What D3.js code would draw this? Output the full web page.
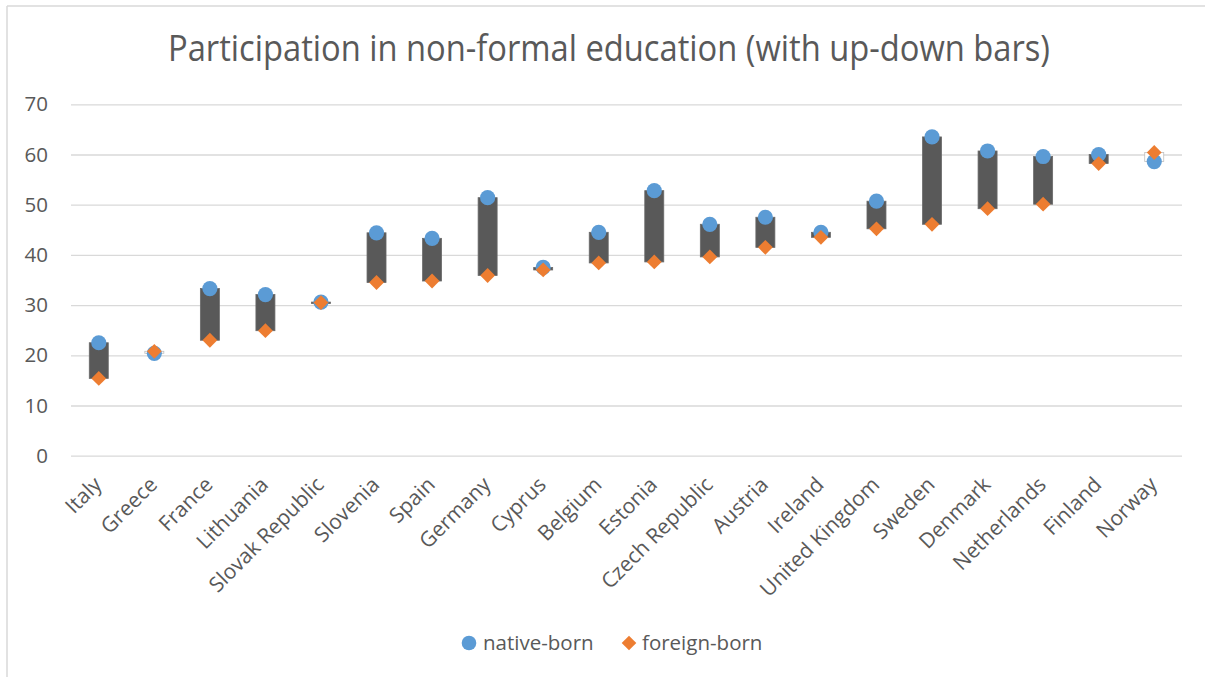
<!DOCTYPE html>
<html>
<head>
<meta charset="utf-8">
<script src="https://cdn.jsdelivr.net/npm/d3@7"></script>
<style>
  html, body { margin: 0; padding: 0; background: #fff; }
  svg { display: block; }
  text { font-family: "Open Sans", "Noto Sans", sans-serif; fill: #595959; }
</style>
</head>
<body>
<svg id="chart" width="1205" height="677"></svg>
<script>
// Participation in non-formal education, native-born vs foreign-born (%)
const countries = ["Italy", "Greece", "France", "Lithuania", "Slovak Republic", "Slovenia", "Spain",
  "Germany", "Cyprus", "Belgium", "Estonia", "Czech Republic", "Austria", "Ireland",
  "United Kingdom", "Sweden", "Denmark", "Netherlands", "Finland", "Norway"];
const nativeBorn  = [22.5, 20.4, 33.3, 32.1, 30.6, 44.4, 43.3, 51.4, 37.5, 44.5, 52.8, 46.1, 47.5, 44.5, 50.7, 63.5, 60.7, 59.6, 60.0, 58.6];
const foreignBorn = [15.4, 20.8, 23.0, 24.9, 30.5, 34.5, 34.8, 35.9, 37.0, 38.4, 38.6, 39.6, 41.5, 43.5, 45.2, 46.1, 49.2, 50.1, 58.2, 60.4];
const yTicks = [0, 10, 20, 30, 40, 50, 60, 70];
const seriesNames = ["native-born", "foreign-born"];

const colors = { native: "#5B9BD5", foreign: "#ED7D31", down: "#595959", up: "#FFFFFF", grid: "#D9D9D9" };

const data = countries.map((c, i) => ({ country: c, native: nativeBorn[i], foreign: foreignBorn[i] }));

const svg = d3.select("#chart");
const W = 1205, H = 677;
const plot = { left: 71, right: 1182, top: 104.3, bottom: 455.7 };
const labelSize = 20.5;

// diamond marker path with a given half-diagonal
const diamondPath = r => `M0,${-r}L${r},0L0,${r}L${-r},0Z`;

// chart frame (top and left edges visible)
svg.append("line").attr("x1", 7).attr("x2", W).attr("y1", 6).attr("y2", 6)
  .attr("stroke", colors.grid).attr("stroke-width", 1.5);
svg.append("line").attr("x1", 7).attr("x2", 7).attr("y1", 6).attr("y2", H)
  .attr("stroke", colors.grid).attr("stroke-width", 1.5);

// title
svg.append("text")
  .attr("x", 609).attr("y", 61)
  .attr("text-anchor", "middle")
  .attr("font-size", 37)
  .attr("textLength", 882)
  .attr("lengthAdjust", "spacingAndGlyphs")
  .text("Participation in non-formal education (with up-down bars)");

const x = d3.scaleBand().domain(countries).range([plot.left, plot.right]).padding(0);
const y = d3.scaleLinear().domain([0, 70]).range([plot.bottom, plot.top]);
const cx = d => x(d.country) + x.bandwidth() / 2;

// horizontal gridlines + y labels
const yAxis = d3.axisLeft(y).tickValues(yTicks).tickSize(-(plot.right - plot.left)).tickPadding(23);
const yg = svg.append("g").attr("transform", `translate(${plot.left},0)`).call(yAxis);
yg.select(".domain").remove();
yg.selectAll(".tick line").attr("stroke", colors.grid).attr("stroke-width", 1.3);
yg.selectAll(".tick text").attr("font-size", labelSize).attr("fill", "#595959")
  .style("font-family", "'Open Sans', sans-serif");

// x labels, rotated
const xAxis = d3.axisBottom(x).tickSize(0).tickPadding(0);
const xg = svg.append("g").attr("transform", `translate(0,${plot.bottom})`).call(xAxis);
xg.select(".domain").remove();
xg.selectAll(".tick text")
  .attr("font-size", 21).attr("fill", "#595959")
  .style("font-family", "'Open Sans', sans-serif")
  .attr("text-anchor", "end")
  .attr("y", null)
  .attr("transform", "translate(-1,25) rotate(-45)")
  .attr("dy", "0.35em");

// up-down bars
const barW = 19;
svg.append("g").selectAll("rect").data(data).join("rect")
  .attr("x", d => cx(d) - barW / 2)
  .attr("width", barW)
  .attr("y", d => y(Math.max(d.native, d.foreign)))
  .attr("height", d => Math.max(1.5, Math.abs(y(d.native) - y(d.foreign))))
  .attr("fill", d => d.foreign > d.native ? colors.up : colors.down)
  .attr("stroke", d => d.foreign > d.native ? "#BFBFBF" : "#6A6A6A")
  .attr("stroke-width", 0.8);

// native-born markers
svg.append("g").selectAll("circle").data(data).join("circle")
  .attr("cx", cx)
  .attr("cy", d => y(d.native))
  .attr("r", 7.6)
  .attr("fill", colors.native);

// foreign-born markers
svg.append("g").selectAll("path").data(data).join("path")
  .attr("transform", d => `translate(${cx(d)},${y(d.foreign)})`)
  .attr("d", diamondPath(7.4))
  .attr("fill", colors.foreign);

// legend
const lg = svg.append("g");
lg.append("circle").attr("cx", 469).attr("cy", 643).attr("r", 7.3).attr("fill", colors.native);
lg.append("text").attr("x", 483).attr("y", 643).attr("dy", "0.35em").attr("font-size", labelSize).text(seriesNames[0]);
lg.append("path").attr("transform", "translate(629,643)").attr("d", diamondPath(7.3)).attr("fill", colors.foreign);
lg.append("text").attr("x", 642).attr("y", 643).attr("dy", "0.35em").attr("font-size", labelSize).text(seriesNames[1]);
</script>
</body>
</html>
